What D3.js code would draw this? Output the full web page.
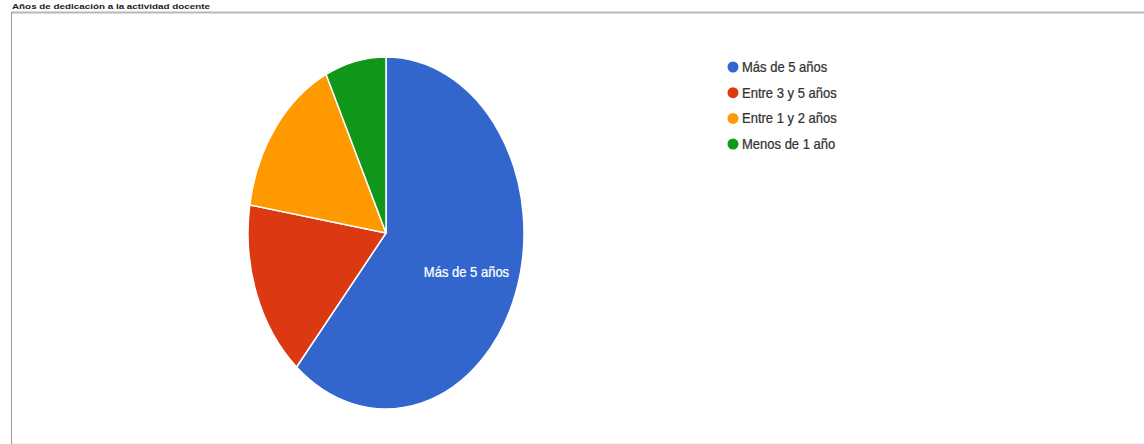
<!DOCTYPE html>
<html><head><meta charset="utf-8">
<script src="https://cdn.jsdelivr.net/npm/d3@7"></script>
<style>
html,body{margin:0;padding:0;background:#fff;}
svg{display:block;font-family:Arial,"Liberation Sans",sans-serif;}
</style></head>
<body>
<svg id="chart" width="1144" height="444"></svg>
<script>
const title = "Años de dedicación a la actividad docente";
const categories = ["Más de 5 años", "Entre 3 y 5 años", "Entre 1 y 2 años", "Menos de 1 año"];
const values = [60, 16, 15, 7];
const colors = ["#3366cc", "#dc3912", "#ff9900", "#109618"];

const svg = d3.select("#chart");
const W = 1144, H = 444;

// frame
svg.append("line").attr("x1", 12).attr("x2", W).attr("y1", 12.5).attr("y2", 12.5)
  .attr("stroke", "#b8b8b8").attr("stroke-width", 2);
svg.append("line").attr("x1", 11.5).attr("x2", 11.5).attr("y1", 12).attr("y2", H)
  .attr("stroke", "#9a9a9a").attr("stroke-width", 1);
svg.append("line").attr("x1", 12).attr("x2", W).attr("y1", 443.5).attr("y2", 443.5)
  .attr("stroke", "#f0f0f0").attr("stroke-width", 1);

svg.append("rect").attr("x", 11).attr("y", 0).attr("width", 201).attr("height", 11).attr("fill", "#fff");
svg.append("text").attr("x", 12).attr("y", 9)
  .attr("font-size", 8).attr("font-weight", "bold").attr("fill", "#222")
  .attr("textLength", 198).attr("lengthAdjust", "spacingAndGlyphs")
  .text(title);

// pie
const cx = 386, cy = 233, R = 176, sx = 138 / 176;
const data = categories.map((c, i) => ({ c, v: values[i], col: colors[i] }));
const pie = d3.pie().value(d => d.v).sort(null);
const arcs = pie(data);
const arc = d3.arc().innerRadius(0).outerRadius(R);
const g = svg.append("g").attr("transform", `translate(${cx},${cy}) scale(${sx},1)`);
g.selectAll("path").data(arcs).join("path")
  .attr("d", arc)
  .attr("fill", d => d.data.col)
  .attr("stroke", "#fff").attr("stroke-width", 1.5)
  .attr("vector-effect", "non-scaling-stroke");

const labelArc = d3.arc().innerRadius(R * 0.66).outerRadius(R * 0.66);
const first = arcs[0];
const [lx, ly] = labelArc.centroid(first);
svg.append("g")
  .attr("transform", `translate(${cx + lx * sx - 5},${cy + ly + 4}) scale(0.93,1)`)
  .append("text")
  .attr("text-anchor", "middle").attr("font-size", 14).attr("fill", "#fff")
  .attr("stroke", "#fff").attr("stroke-width", 0.25)
  .text(first.data.c);

// legend
const lg = svg.append("g");
const items = lg.selectAll("g").data(data).join("g")
  .attr("transform", (d, i) => `translate(733,${67 + i * 25.7})`);
items.append("circle").attr("r", 5.5).attr("fill", d => d.col);
items.append("g").attr("transform", "translate(9,5) scale(0.93,1)")
  .append("text")
  .attr("font-size", 14).attr("fill", "#333")
  .attr("stroke", "#333").attr("stroke-width", 0.25)
  .text(d => d.c);
</script>
</body></html>
